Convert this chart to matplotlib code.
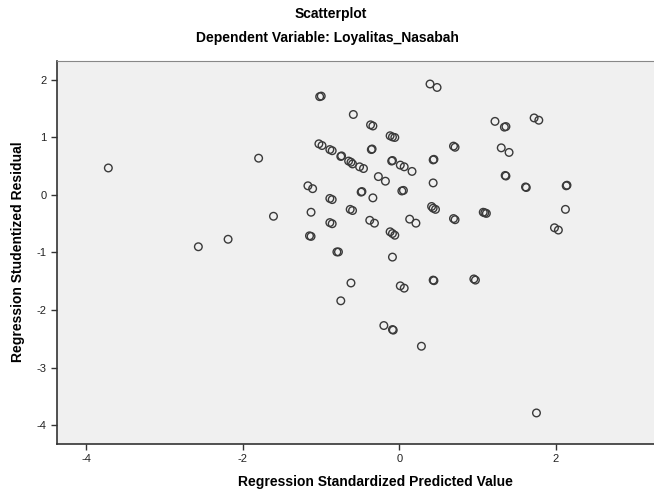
import matplotlib.pyplot as plt
import numpy as np

plt.rcParams["font.family"] = ["Liberation Sans", "DejaVu Sans"]
plt.rcParams["axes.unicode_minus"] = False

# Regression Standardized Predicted Value
pred = [-3.72, -2.57, -2.19, -1.80, -1.61, -1.02, -1.00, -1.03, -0.99, -0.89,
        -0.86, -0.75, -0.74, -0.65, -0.62, -0.60, -0.51, -0.46, -0.59, -0.37,
        -0.34, -0.12, -0.09, -0.06, 0.39, 0.48, -0.36, -0.35, -0.10, -0.09,
        0.01, 0.06, 0.16, 0.43, 0.44, 0.69, 0.71, 1.22, 1.34, 1.36,
        1.72, 1.78, 1.30, 1.40, -0.27, -0.18, 0.43, 1.35, 1.36, 1.61,
        1.62, 2.13, 2.14, -1.17, -1.11, -0.89, -0.86, -0.49, -0.48, -0.34,
        0.03, 0.05, -0.63, -0.60, -1.13, -0.89, -0.86, -0.38, -0.32, -1.15,
        -1.13, -0.12, -0.09, -0.06, 0.13, 0.21, 0.41, 0.43, 0.46, 0.69,
        0.71, 1.07, 1.09, 1.11, 2.12, 1.98, 2.03, -0.80, -0.78, -0.09,
        -0.62, -0.75, 0.01, 0.06, 0.43, 0.44, 0.95, 0.97, -0.20, -0.09,
        -0.08, 0.28, 1.75]

# Regression Studentized Residual
resid = [0.47, -0.90, -0.77, 0.64, -0.37, 1.71, 1.72, 0.89, 0.86, 0.79,
         0.77, 0.67, 0.68, 0.59, 0.57, 0.54, 0.49, 0.46, 1.40, 1.22,
         1.20, 1.03, 1.01, 1.00, 1.93, 1.87, 0.79, 0.80, 0.59, 0.60,
         0.52, 0.49, 0.41, 0.61, 0.62, 0.85, 0.83, 1.28, 1.18, 1.19,
         1.34, 1.30, 0.82, 0.74, 0.32, 0.24, 0.21, 0.34, 0.33, 0.14,
         0.13, 0.16, 0.17, 0.16, 0.11, -0.06, -0.08, 0.05, 0.06, -0.05,
         0.07, 0.08, -0.25, -0.27, -0.30, -0.48, -0.50, -0.44, -0.49, -0.71,
         -0.72, -0.64, -0.67, -0.70, -0.42, -0.49, -0.20, -0.23, -0.25, -0.41,
         -0.43, -0.30, -0.31, -0.32, -0.25, -0.57, -0.61, -0.99, -0.99, -1.08,
         -1.53, -1.84, -1.58, -1.62, -1.48, -1.49, -1.46, -1.48, -2.27, -2.34,
         -2.35, -2.63, -3.79]

fig = plt.figure(figsize=(6.54, 4.94), dpi=100)
W, H = 654, 494
# plot area (image was cut on the right side)
ax = fig.add_axes([57 / W, (H - 444) / H, (693 - 57) / W, (444 - 61) / H])
ax.set_facecolor("#f0f0f0")

ax.scatter(pred, resid, s=30, facecolors="none", edgecolors="#3a3a3a",
           linewidths=1.0, zorder=3)

ax.set_xlim(-4.376, 3.75)
ax.set_ylim(-4.33, 2.33)
ax.set_xticks([-4, -2, 0, 2])
ax.set_yticks([-4, -3, -2, -1, 0, 1, 2])
ax.tick_params(direction="out", length=4, width=1, colors="#333333",
               labelsize=8, labelcolor="#222222")

for s in ["left", "bottom"]:
    ax.spines[s].set_color("#333333")
    ax.spines[s].set_linewidth(1.2)
ax.spines["top"].set_color("#888888")
ax.spines["right"].set_visible(False)

fig.text(0.505, 1 - 14 / H, "Scatterplot", ha="center", va="center",
         fontsize=10, fontweight="bold")
fig.text(0.5, 1 - 38 / H, "Dependent Variable: Loyalitas_Nasabah",
         ha="center", va="center", fontsize=10, fontweight="bold")
fig.text(375 / W, 1 - 482 / H, "Regression Standardized Predicted Value",
         ha="center", va="center", fontsize=10, fontweight="bold")
fig.text(18 / W, 1 - 252 / H, "Regression Studentized Residual",
         ha="center", va="center", rotation=90, fontsize=10, fontweight="bold")

fig.savefig("out.png", dpi=100)
